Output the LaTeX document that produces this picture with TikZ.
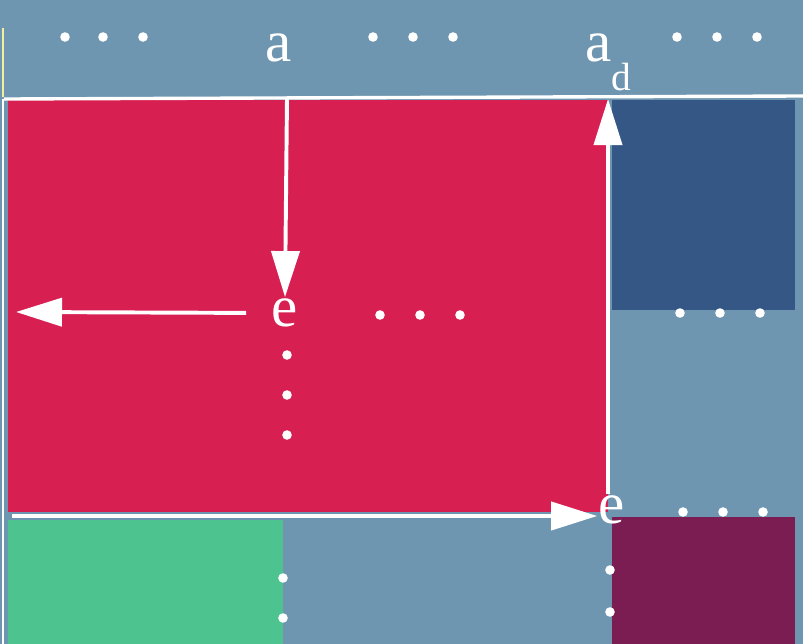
\documentclass[tikz,border=0pt]{standalone}
\usepackage{fontspec}
\setmainfont{Liberation Serif}
\usepackage{tikz}
\usetikzlibrary{arrows.meta}
\definecolor{matBg}{HTML}{6E96B1}
\definecolor{matRed}{HTML}{D81F52}
\definecolor{matNavy}{HTML}{355786}
\definecolor{matGreen}{HTML}{4DC48F}
\definecolor{matPlum}{HTML}{7B1C52}
\definecolor{matEdge}{HTML}{F4EFA0}

\begin{document}
\begin{tikzpicture}[x=0.025cm, y=-0.025cm,
  lbl/.style={text=white, font=\fontsize{42}{48}\selectfont, inner sep=1pt},
  flow/.style={draw=white, line width=2.8pt, -{Triangle[length=1.15cm, width=0.7cm]}},
  rule/.style={draw=white, line width=2.4pt},
  pt/.style={fill=white}]
  \useasboundingbox (0,0) rectangle (803,644);
  \fill[matBg] (0,0) rectangle (803,644);

  % coloured blocks
  \fill[matRed] (8,100) rectangle (608,512);
  \fill[matNavy] (612,100) rectangle (795,310);
  \fill[matGreen] (8,520) rectangle (283,644);
  \fill[matPlum] (612,517) rectangle (795,644);

  % frame lines
  \draw[rule] (4,99) -- (803,96);
  \draw[white, line width=1.5pt] (3,99) -- (3,644);
  \draw[matEdge, line width=1.2pt] (3,28) -- (3,97);

  % labels
  \node[lbl, anchor=base] (a) at (279,62) {a};
  \node[lbl, anchor=base west] (ad) at (584,62) {a\raisebox{-20pt}{\fontsize{28}{32}\selectfont d}};
  \node[lbl] (e1) at (285,313) {e};
  \node[lbl] (e2) at (612,510) {e};

  \coordinate (topA) at (287,98);
  \coordinate (leftEnd) at (16,312);
  \coordinate (botStart) at (12,516);
  \coordinate (topD) at (608,99);

  % arrows
  \draw[flow] (topA) -- (e1.north);
  \draw[flow, shorten <=0.6cm] (e1.west) -- (leftEnd);
  \draw[flow] (botStart) -- (botStart -| e2.west);
  \draw[flow] (e2.north -| topD) -- (topD);

  % dots
  \foreach \x in {65,103,143,373,413,453,677,717,757}
    \fill[pt] (\x,37) circle[radius=0.12cm];
  \foreach \x in {380,420,460}
    \fill[pt] (\x,315) circle[radius=0.12cm];
  \foreach \y in {355,395,435}
    \fill[pt] (287,\y) circle[radius=0.12cm];
  \foreach \x in {680,720,760}
    \fill[pt] (\x,313) circle[radius=0.12cm];
  \foreach \x in {683,723,763}
    \fill[pt] (\x,512) circle[radius=0.12cm];
  \foreach \y in {570,612}
    \fill[pt] (610,\y) circle[radius=0.12cm];
  \foreach \y in {578,618}
    \fill[pt] (283,\y) circle[radius=0.12cm];
\end{tikzpicture}
\end{document}
